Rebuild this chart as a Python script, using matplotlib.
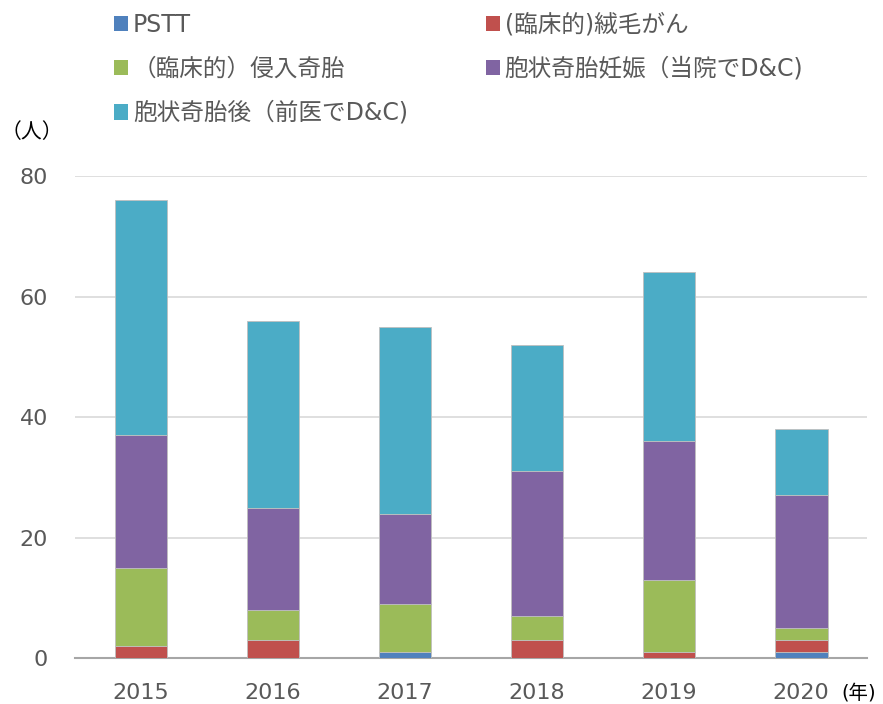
import numpy as np
import matplotlib.pyplot as plt
from matplotlib.patches import Patch

plt.rcParams['font.family'] = ['DejaVu Sans', 'Noto Sans CJK JP']

# データ（人数）
years = ['2015', '2016', '2017', '2018', '2019', '2020']
labels = ['PSTT', '(臨床的)絨毛がん', '（臨床的）侵入奇胎',
          '胞状奇胎妊娠（当院でD&C)', '胞状奇胎後（前医でD&C)']
pstt = [0, 0, 1, 0, 0, 1]
chorio = [2, 3, 0, 3, 1, 2]
invasive = [13, 5, 8, 4, 12, 2]
mole_here = [22, 17, 15, 24, 23, 22]
mole_prev = [39, 31, 31, 21, 28, 11]
colors = ['#4F81BD', '#C0504D', '#9BBB59', '#8064A2', '#4BACC6']

series = [pstt, chorio, invasive, mole_here, mole_prev]
gray = '#595959'

fig = plt.figure(figsize=(8.83, 7.04), dpi=100)
ax = fig.add_axes([0.085, 0.065, 0.897, 0.685])

x = np.arange(len(years))
bottom = np.zeros(len(years))
for vals, c in zip(series, colors):
    ax.bar(x, vals, width=0.4, bottom=bottom, color=c,
           edgecolor='#bfbfbf', linewidth=0.6, zorder=3)
    bottom += np.array(vals)

ax.set_xlim(-0.5, 5.5)
ax.set_ylim(0, 80)
ax.set_yticks([0, 20, 40, 60, 80])
ax.grid(axis='y', color='#d9d9d9', linewidth=1.2, zorder=0)
ax.set_xticks(x)
ax.set_xticklabels(years)
ax.tick_params(axis='both', length=0, labelsize=16, colors=gray)
ax.tick_params(axis='x', pad=18)
ax.tick_params(axis='y', pad=19.5)
for s in ['top', 'right', 'left']:
    ax.spines[s].set_visible(False)
ax.spines['bottom'].set_color('#a6a6a6')
ax.spines['bottom'].set_linewidth(1.5)

fig.text(0.001, 0.813, '（人）', fontsize=15, color='black', va='center')
fig.text(0.953, 0.016, '(年)', fontsize=14, color='black', va='center')

# 凡例（行順に並べる）
handles = [Patch(facecolor=c, edgecolor='none') for c in colors]
order = [0, 2, 4, 1, 3]
leg = fig.legend([handles[i] for i in order], [labels[i] for i in order],
                 ncol=2, loc='upper left', bbox_to_anchor=(0.105, 1.012),
                 frameon=False, fontsize=17, handlelength=0.6,
                 handleheight=0.65, handletextpad=0.2, columnspacing=3.3,
                 labelspacing=0.85)
for t in leg.get_texts():
    t.set_color(gray)

fig.savefig('out.png', dpi=100)
